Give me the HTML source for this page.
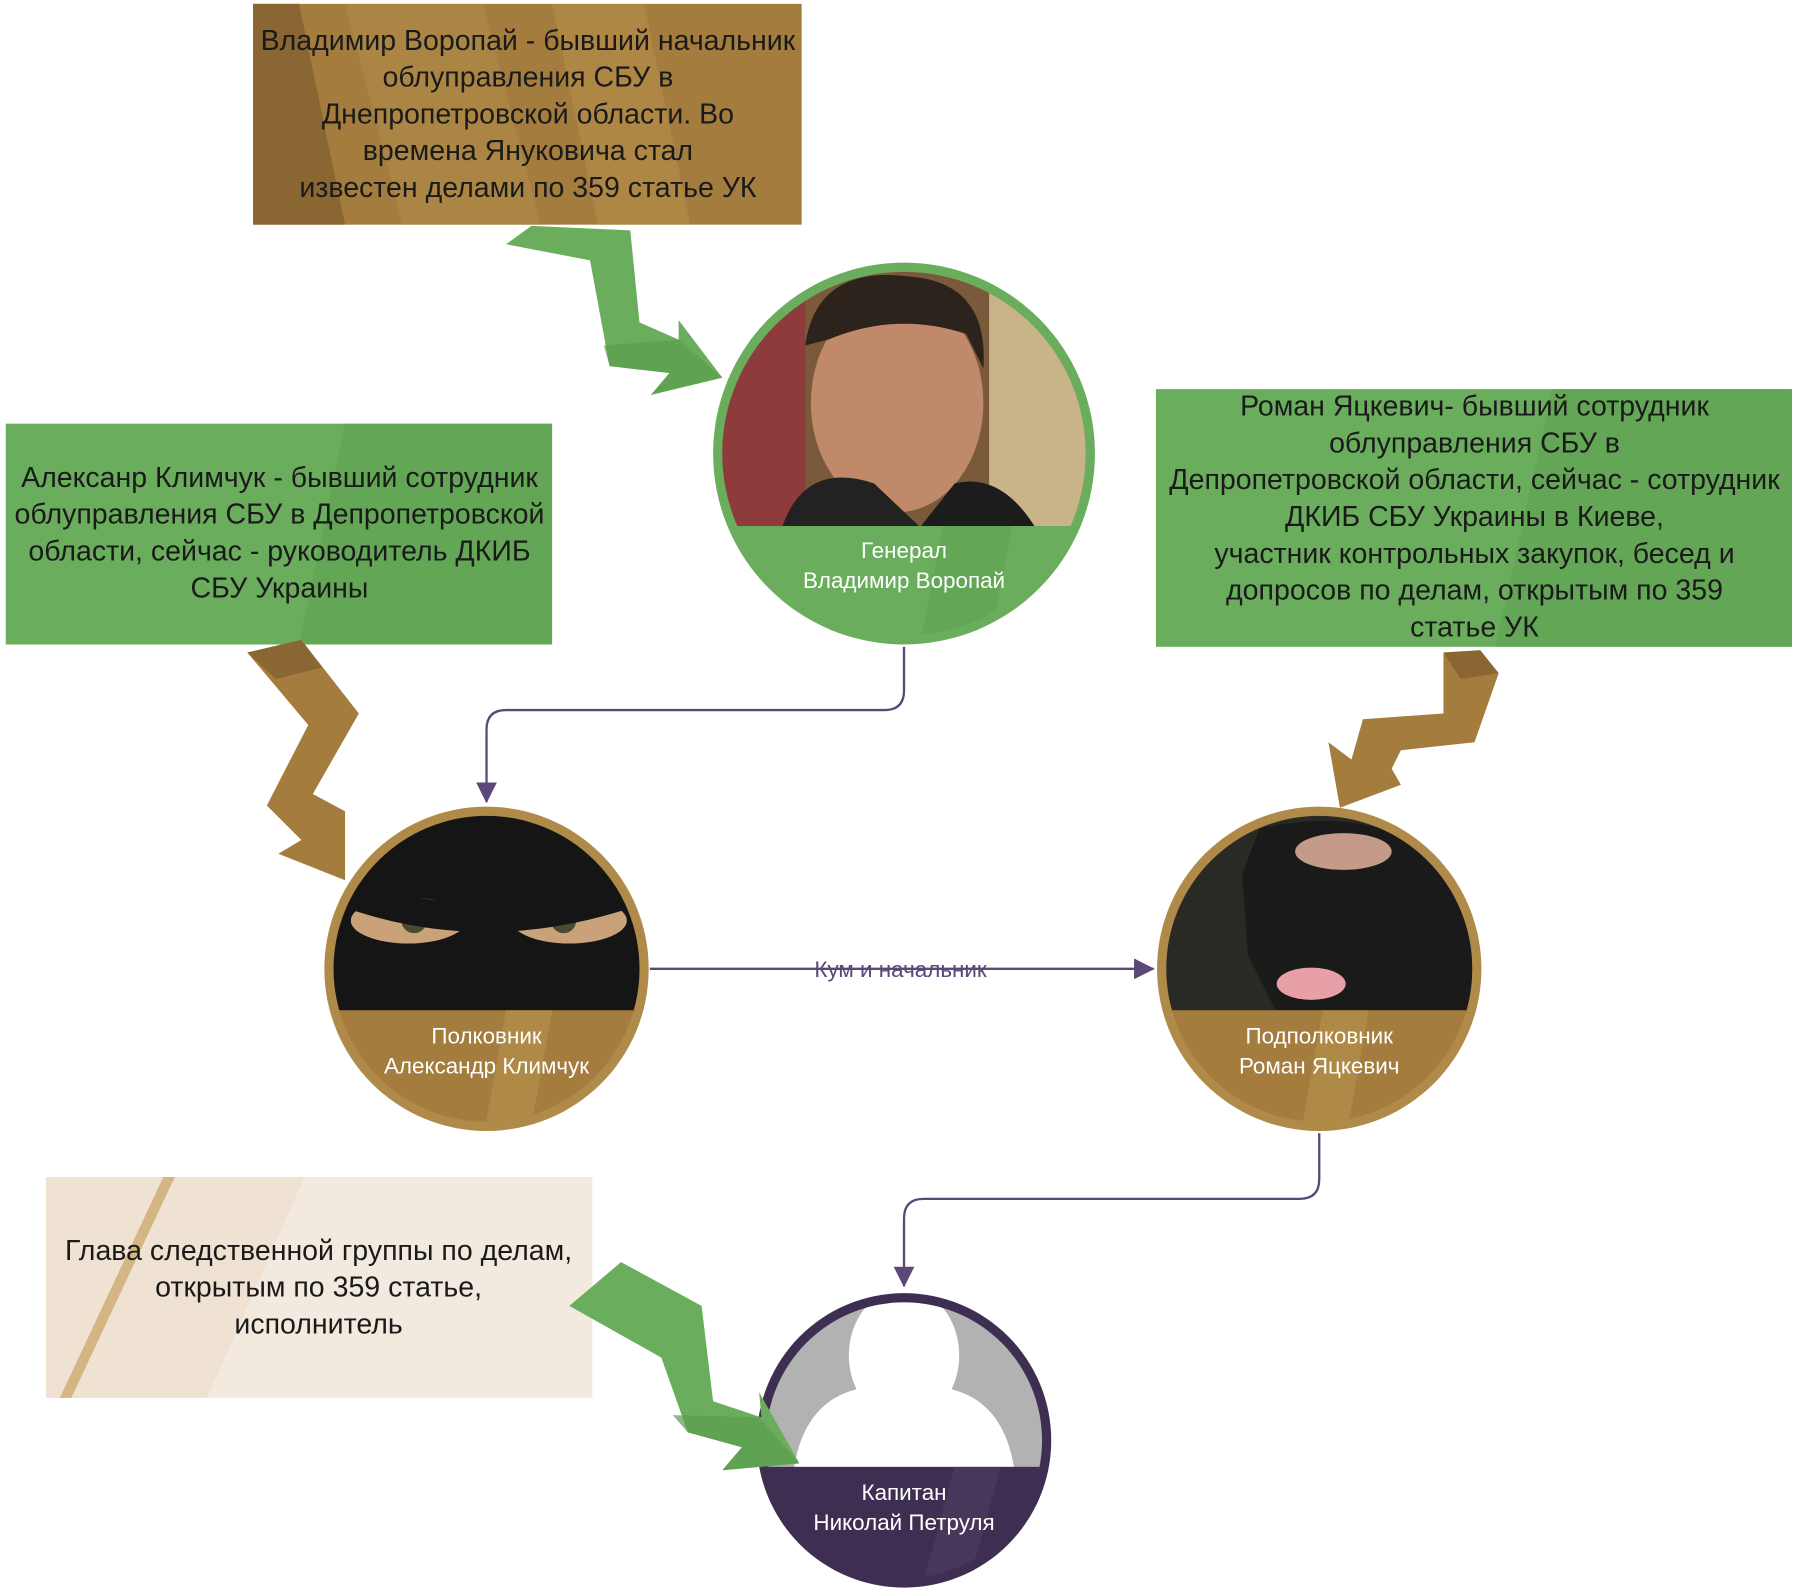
<!DOCTYPE html>
<html><head><meta charset="utf-8"><style>
html,body{margin:0;padding:0;background:#fff;}
svg{display:block;}
text{font-family:"Liberation Sans","DejaVu Sans",sans-serif;}
</style></head><body>
<svg width="1800" height="1588" viewBox="0 0 1565 1380" xmlns="http://www.w3.org/2000/svg">
<defs>
<clipPath id="c1"><circle cx="786" cy="394" r="158"/></clipPath>
<clipPath id="c2"><circle cx="423" cy="842" r="133"/></clipPath>
<clipPath id="c3"><circle cx="1147" cy="842" r="133"/></clipPath>
<clipPath id="c4"><circle cx="786" cy="1252" r="120"/></clipPath>
<marker id="ah2" markerWidth="18" markerHeight="18" refX="17" refY="9" orient="auto" markerUnits="userSpaceOnUse"><path d="M0,0 L18,9 L0,18 z" fill="#5a4878"/></marker>
</defs>

<rect x="220" y="3" width="477" height="192" fill="#a47d3e"/>
<polygon points="220,3 260,3 300,195 220,195" fill="#8a6633"/>
<polygon points="300,3 420,3 470,195 350,195" fill="#b08a48" opacity="0.6"/>
<polygon points="480,3 560,3 600,195 520,195" fill="#b8914c" opacity="0.5"/>
<g font-size="24.8" fill="#1a1a1a" text-anchor="middle">
<text x="459" y="43">Владимир Воропай - бывший начальник</text>
<text x="459" y="75">облуправления СБУ в</text>
<text x="459" y="107">Днепропетровской области. Во</text>
<text x="459" y="139">времена Януковича стал</text>
<text x="459" y="171">известен делами по 359 статье УК</text>
</g>

<polygon points="440,212 462,196 548,200 556,280 590,295 590,278 628,328 566,343 582,324 530,318 513,226" fill="#6aad5c"/>
<polygon points="525,300 530,318 582,324 566,343 628,328 590,295" fill="#5a9c4e" opacity="0.7"/>

<circle cx="786" cy="394" r="166" fill="#6aad5c"/>
<g clip-path="url(#c1)">
<rect x="620" y="228" width="332" height="230" fill="#7a5a3a"/>
<rect x="620" y="228" width="80" height="230" fill="#8e3b3b"/>
<rect x="860" y="228" width="92" height="230" fill="#c9b48a"/>
<ellipse cx="780" cy="350" rx="75" ry="95" fill="#c08a6a"/>
<path d="M700,300 Q710,230 790,240 Q860,245 855,320 L840,290 Q780,270 720,295 z" fill="#2b231c"/>
<path d="M680,458 Q700,400 760,420 L800,458 z" fill="#222"/>
<path d="M800,458 L830,420 Q870,410 900,458 z" fill="#1c1c1c"/>
<rect x="620" y="457" width="332" height="110" fill="#6aad5c"/>
<polygon points="820,457 880,457 860,560 800,560" fill="#5ea252" opacity="0.6"/>
</g>
<g font-size="19.5" fill="#fff" text-anchor="middle">
<text x="786" y="485">Генерал</text>
<text x="786" y="511">Владимир Воропай</text>
</g>

<rect x="5" y="368" width="475" height="192" fill="#6aad5c"/>
<polygon points="300,368 480,368 480,560 260,560" fill="#5fa251" opacity="0.6"/>
<g font-size="24.8" fill="#1a1a1a" text-anchor="middle">
<text x="243" y="423">Алексанр Климчук - бывший сотрудник</text>
<text x="243" y="455">облуправления СБУ в Депропетровской</text>
<text x="243" y="487">области, сейчас - руководитель ДКИБ</text>
<text x="243" y="519">СБУ Украины</text>
</g>

<rect x="1005" y="338" width="553" height="224" fill="#6aad5c"/>
<polygon points="1350,338 1558,338 1558,562 1300,562" fill="#5fa251" opacity="0.6"/>
<g font-size="24.8" fill="#1a1a1a" text-anchor="middle">
<text x="1282" y="361">Роман Яцкевич- бывший сотрудник</text>
<text x="1282" y="393">облуправления СБУ в</text>
<text x="1282" y="425">Депропетровской области, сейчас - сотрудник</text>
<text x="1282" y="457">ДКИБ СБУ Украины в Киеве,</text>
<text x="1282" y="489">участник контрольных закупок, бесед и</text>
<text x="1282" y="521">допросов по делам, открытым по 359</text>
<text x="1282" y="553">статье УК</text>
</g>

<path d="M786,562 L786,600 Q786,617 769,617 L440,617 Q423,617 423,634 L423,697" fill="none" stroke="#5a4878" stroke-width="2" marker-end="url(#ah2)"/>

<polygon points="215,567 262,556 312,620 272,690 300,705 300,765 242,742 262,730 232,700 268,630" fill="#a47d3e"/>
<polygon points="215,567 262,556 280,580 240,590" fill="#8a6633"/>

<polygon points="1255,567 1287,565 1303,585 1282,645 1218,652 1210,668 1218,682 1165,702 1155,645 1175,660 1185,625 1255,620" fill="#a47d3e"/>
<polygon points="1255,567 1287,565 1303,585 1270,590" fill="#8a6633"/>

<circle cx="423" cy="842" r="141" fill="#b08a48"/>
<g clip-path="url(#c2)">
<rect x="283" y="702" width="282" height="178" fill="#151515"/>
<ellipse cx="355" cy="800" rx="50" ry="20" fill="#c9a27a"/>
<ellipse cx="495" cy="800" rx="50" ry="20" fill="#c9a27a"/>
<circle cx="360" cy="800" r="11" fill="#4a4a30"/>
<circle cx="490" cy="800" r="11" fill="#4a4a30"/>
<path d="M290,760 Q420,810 560,760 L560,785 Q420,835 290,785 z" fill="#151515"/>
<rect x="283" y="878" width="282" height="110" fill="#a47d3e"/>
<polygon points="440,878 480,878 460,990 420,990" fill="#b8914c" opacity="0.6"/>
</g>
<g font-size="19.5" fill="#fff" text-anchor="middle">
<text x="423" y="907">Полковник</text>
<text x="423" y="933">Александр Климчук</text>
</g>

<circle cx="1147" cy="842" r="141" fill="#b08a48"/>
<g clip-path="url(#c3)">
<rect x="1005" y="702" width="284" height="178" fill="#2a2a25"/>
<path d="M1095,720 Q1180,700 1250,740 L1280,800 L1280,880 L1110,880 L1085,830 L1080,760 z" fill="#1a1a1a"/>
<ellipse cx="1168" cy="740" rx="42" ry="16" fill="#c49a88"/>
<ellipse cx="1140" cy="855" rx="30" ry="14" fill="#e8a0a8"/>
<rect x="1005" y="878" width="284" height="110" fill="#a47d3e"/>
<polygon points="1150,878 1190,878 1170,990 1130,990" fill="#b8914c" opacity="0.6"/>
</g>
<g font-size="19.5" fill="#fff" text-anchor="middle">
<text x="1147" y="907">Подполковник</text>
<text x="1147" y="933">Роман Яцкевич</text>
</g>

<line x1="565" y1="842" x2="1003" y2="842" stroke="#5a4878" stroke-width="2" marker-end="url(#ah2)"/>
<text x="783" y="849" font-size="19.5" fill="#5a4878" text-anchor="middle">Кум и начальник</text>

<path d="M1147,985 L1147,1025 Q1147,1042 1130,1042 L803,1042 Q786,1042 786,1059 L786,1118" fill="none" stroke="#5a4878" stroke-width="2" marker-end="url(#ah2)"/>

<rect x="40" y="1023" width="475" height="192" fill="#f3eadf"/>
<polygon points="40,1023 265,1023 180,1215 40,1215" fill="#efe2d2"/>
<polygon points="142,1023 152,1023 62,1215 52,1215" fill="#d4b684"/>
<g font-size="24.8" fill="#1a1a1a" text-anchor="middle">
<text x="277" y="1095">Глава следственной группы по делам,</text>
<text x="277" y="1127">открытым по 359 статье,</text>
<text x="277" y="1159">исполнитель</text>
</g>

<circle cx="786" cy="1252" r="128" fill="#3e2f52"/>
<g clip-path="url(#c4)">
<rect x="658" y="1123" width="258" height="155" fill="#b2b2b2"/>
<ellipse cx="786" cy="1178" rx="48" ry="58" fill="#fff"/>
<path d="M690,1278 Q700,1210 760,1205 Q786,1230 812,1205 Q872,1210 882,1278 z" fill="#fff"/>
<rect x="658" y="1275" width="258" height="110" fill="#3e2f52"/>
<polygon points="830,1275 870,1275 840,1385 800,1385" fill="#4a3a60" opacity="0.7"/>
</g>
<g font-size="19.5" fill="#fff" text-anchor="middle">
<text x="786" y="1304">Капитан</text>
<text x="786" y="1330">Николай Петруля</text>
</g>

<polygon points="495,1135 540,1097 610,1135 620,1218 662,1232 660,1210 695,1272 628,1278 645,1258 598,1245 575,1180" fill="#6aad5c"/>
<polygon points="585,1230 598,1245 645,1258 628,1278 695,1272 660,1232" fill="#5a9c4e" opacity="0.7"/>
</svg>
</body></html>
